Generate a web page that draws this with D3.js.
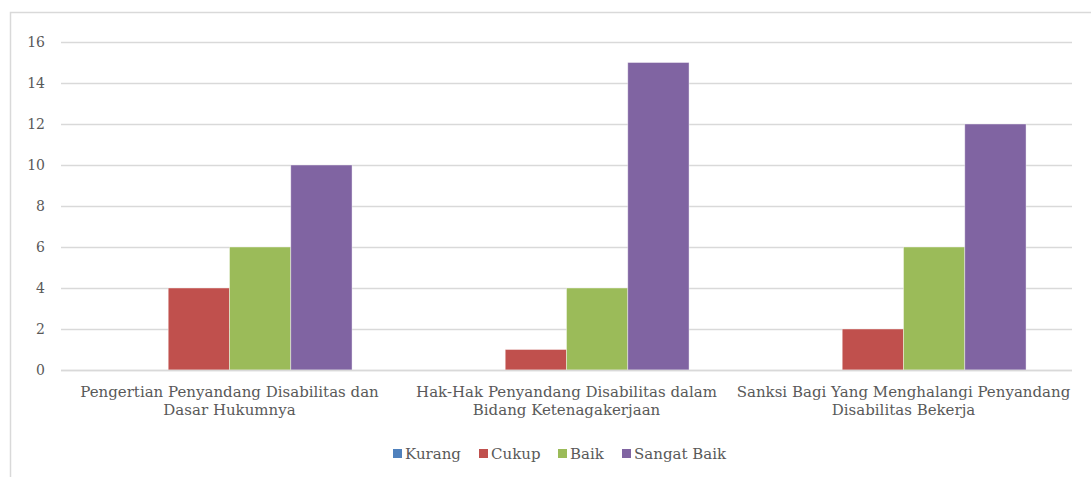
<!DOCTYPE html>
<html lang="id">
<head>
<meta charset="utf-8">
<title>Chart</title>
<script src="https://d3js.org/d3.v7.min.js"></script>
<style>
  body { margin: 0; background: #fff; }
  svg text { fill: #595959; }
</style>
</head>
<body>
<svg id="chart" width="1091" height="477"></svg>
<script>
// data
var categories = [
  ["Pengertian Penyandang Disabilitas dan", "Dasar Hukumnya"],
  ["Hak-Hak Penyandang Disabilitas dalam", "Bidang Ketenagakerjaan"],
  ["Sanksi Bagi Yang Menghalangi Penyandang", "Disabilitas Bekerja"]
];
var seriesNames = ["Kurang", "Cukup", "Baik", "Sangat Baik"];
var kurang = [0, 0, 0];
var cukup = [4, 1, 2];
var baik = [6, 4, 6];
var sangatBaik = [10, 15, 12];
var yTicks = [0, 2, 4, 6, 8, 10, 12, 14, 16];
var colors = ["#4f81bd", "#c0504d", "#9bbb59", "#8064a2"];

var series = [kurang, cukup, baik, sangatBaik];

var svg = d3.select("#chart");
var fontFam = "DejaVu Serif";

// outer border
svg.append("rect")
  .attr("x", 10.5).attr("y", 12.5)
  .attr("width", 1090).attr("height", 480)
  .attr("fill", "none").attr("stroke", "#d9d9d9").attr("stroke-width", 1.5);

var mLeft = 61, mRight = 1072, mTop = 42, mBottom = 370;

var x0 = d3.scaleBand().domain(d3.range(categories.length))
  .range([mLeft, mRight]).paddingInner(0).paddingOuter(0);
var x1 = d3.scaleBand().domain(d3.range(seriesNames.length))
  .range([0, x0.bandwidth()]).paddingInner(0).paddingOuter(0.75);
var y = d3.scaleLinear().domain([0, 16]).range([mBottom, mTop]);

// gridlines
svg.append("g").selectAll("line")
  .data(yTicks)
  .join("line")
  .attr("x1", mLeft).attr("x2", mRight)
  .attr("y1", function(d) { return Math.round(y(d)) + 0.5; })
  .attr("y2", function(d) { return Math.round(y(d)) + 0.5; })
  .attr("stroke", "#d9d9d9").attr("stroke-width", 1.5);

// y axis labels
var yAxis = d3.axisLeft(y).tickValues(yTicks).tickSize(0).tickPadding(16);
var gy = svg.append("g").attr("transform", "translate(" + mLeft + ",0)").call(yAxis);
gy.attr("font-family", fontFam).attr("font-size", 14);
gy.select(".domain").remove();
gy.selectAll("text").attr("fill", "#595959");

// bars
var groups = svg.append("g").selectAll("g")
  .data(categories)
  .join("g")
  .attr("transform", function(d, i) { return "translate(" + x0(i) + ",0)"; });

groups.selectAll("rect")
  .data(function(d, i) { return series.map(function(s, j) { return { s: j, v: s[i] }; }); })
  .join("rect")
  .attr("x", function(d) { return x1(d.s); })
  .attr("width", x1.bandwidth())
  .attr("y", function(d) { return y(d.v); })
  .attr("height", function(d) { return y(0) - y(d.v); })
  .attr("fill", function(d) { return colors[d.s]; })
  .attr("stroke", "#ffffff").attr("stroke-opacity", 0.5).attr("stroke-width", 0.8);

// x axis line
svg.append("line")
  .attr("x1", mLeft).attr("x2", mRight)
  .attr("y1", mBottom + 0.5).attr("y2", mBottom + 0.5)
  .attr("stroke", "#d9d9d9").attr("stroke-width", 1.5);

// category labels
var lab = svg.append("g").selectAll("text")
  .data(categories)
  .join("text")
  .attr("text-anchor", "middle")
  .attr("font-family", fontFam)
  .attr("font-size", 15)
  .attr("transform", function(d, i) { return "translate(" + (x0(i) + x0.bandwidth() / 2) + ",397)"; });
lab.selectAll("tspan")
  .data(function(d) { return d; })
  .join("tspan")
  .attr("x", 0)
  .attr("dy", function(d, i) { return i === 0 ? 0 : 18; })
  .text(function(d) { return d; });

// legend
var legendX = [393, 479, 558, 622];
var legend = svg.append("g").selectAll("g")
  .data(seriesNames)
  .join("g")
  .attr("transform", function(d, i) { return "translate(" + legendX[i] + ",449)"; });
legend.append("rect")
  .attr("width", 9).attr("height", 9)
  .attr("fill", function(d, i) { return colors[i]; });
legend.append("text")
  .attr("x", 12).attr("y", 10)
  .attr("font-family", fontFam)
  .attr("font-size", 15)
  .text(function(d) { return d; });
</script>
</body>
</html>
